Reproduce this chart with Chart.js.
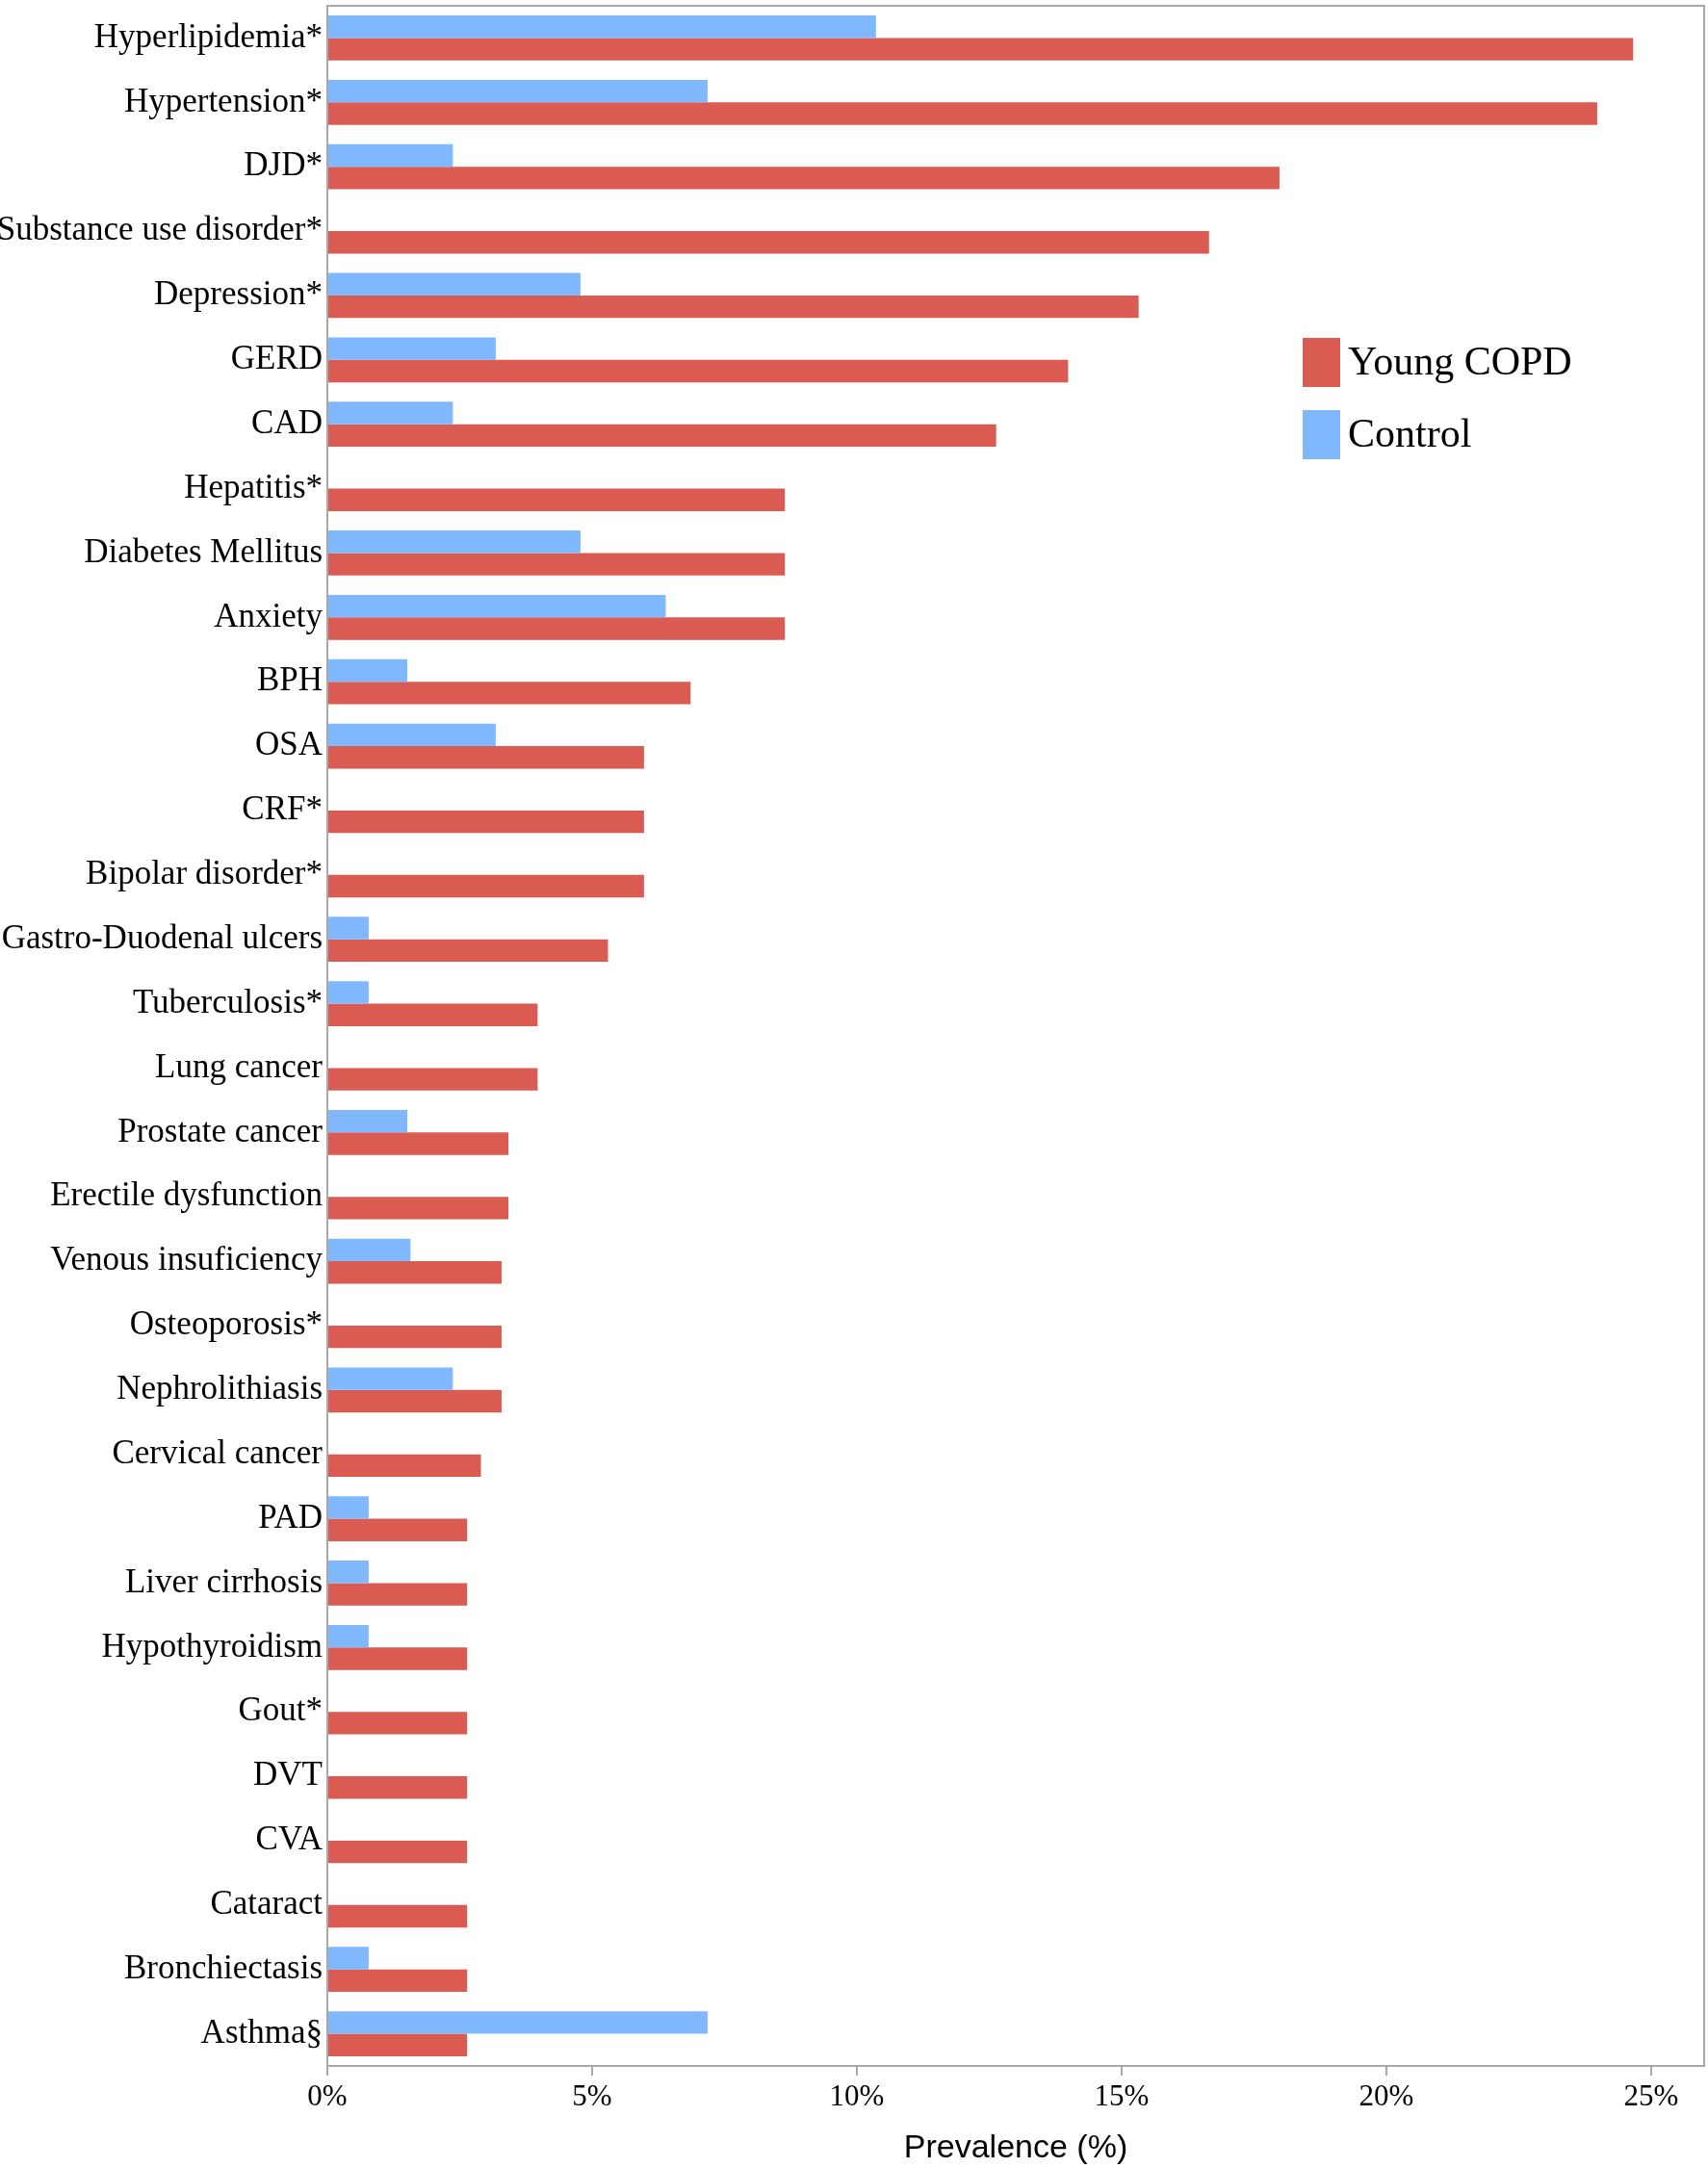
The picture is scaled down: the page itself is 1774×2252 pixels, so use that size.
<!DOCTYPE html>
<html>
<head>
<meta charset="utf-8">
<title>Comorbidities</title>
<script src="https://cdn.jsdelivr.net/npm/chart.js@4.4.1/dist/chart.umd.min.js"></script>
<style>
  html, body { margin: 0; padding: 0; background: #fff; }
  #wrap { width: 1774px; height: 2252px; position: relative; }
</style>
</head>
<body>
<div id="wrap"><canvas id="myChart"></canvas></div>
<script>
var categories = [
  "Hyperlipidemia*", "Hypertension*", "DJD*", "Substance use disorder*",
  "Depression*", "GERD", "CAD", "Hepatitis*", "Diabetes Mellitus", "Anxiety",
  "BPH", "OSA", "CRF*", "Bipolar disorder*", "Gastro-Duodenal ulcers",
  "Tuberculosis*", "Lung cancer", "Prostate cancer", "Erectile dysfunction",
  "Venous insuficiency", "Osteoporosis*", "Nephrolithiasis", "Cervical cancer",
  "PAD", "Liver cirrhosis", "Hypothyroidism", "Gout*", "DVT", "CVA",
  "Cataract", "Bronchiectasis", "Asthma§"
];

var youngCopd = [
  24.66, 23.98, 17.98, 16.65, 15.32, 13.99, 12.63, 8.64, 8.64, 8.64,
  6.86, 5.98, 5.98, 5.98, 5.30, 3.97, 3.97, 3.42, 3.42, 3.29,
  3.29, 3.29, 2.90, 2.64, 2.64, 2.64, 2.64, 2.64, 2.64, 2.64,
  2.64, 2.64
];

var control = [
  10.36, 7.18, 2.37, 0, 4.78, 3.18, 2.37, 0, 4.78, 6.39,
  1.51, 3.18, 0, 0, 0.78, 0.78, 0, 1.51, 0, 1.57,
  0, 2.37, 0, 0.78, 0.78, 0.78, 0, 0, 0, 0,
  0.78, 7.18
];

var xTicks = [0, 5, 10, 15, 20, 25];

var redColor = "#d95b51";
var blueColor = "#7fb8ff";
var frameColor = "#a8a8a8";

// box round the plot + the legend inside it
var framePlugin = {
  id: "frame",
  afterDraw: function (chart) {
    var ctx = chart.ctx;
    var a = chart.chartArea;
    ctx.save();
    ctx.strokeStyle = frameColor;
    ctx.lineWidth = 2;
    ctx.strokeRect(a.left, a.top, a.right - a.left, a.bottom - a.top);

    var items = [
      { text: "Young COPD", color: redColor, y: 351 },
      { text: "Control", color: blueColor, y: 426 }
    ];
    ctx.font = "42px 'Liberation Serif', 'Times New Roman', serif";
    ctx.textBaseline = "middle";
    ctx.textAlign = "left";
    items.forEach(function (it) {
      ctx.fillStyle = it.color;
      ctx.fillRect(1353, it.y, 39, 51);
      ctx.fillStyle = "#000";
      ctx.fillText(it.text, 1400, it.y + 27);
    });
    ctx.restore();
  }
};

var ctx = document.getElementById("myChart").getContext("2d");
var myChart = new Chart(ctx, {
  type: "bar",
  data: {
    labels: categories,
    datasets: [
      {
        label: "Control",
        data: control,
        backgroundColor: blueColor,
        categoryPercentage: 0.7,
        barPercentage: 1.0
      },
      {
        label: "Young COPD",
        data: youngCopd,
        backgroundColor: redColor,
        categoryPercentage: 0.7,
        barPercentage: 1.0
      }
    ]
  },
  options: {
    indexAxis: "y",
    responsive: true,
    maintainAspectRatio: false,
    animation: false,
    layout: {
      padding: { top: 6, right: 4, left: 0, bottom: 0 }
    },
    plugins: {
      legend: { display: false },
      tooltip: { enabled: false }
    },
    scales: {
      y: {
        grid: { display: false, drawTicks: false },
        border: { display: true, color: frameColor, width: 2 },
        ticks: {
          color: "#000",
          padding: 5,
          autoSkip: false,
          font: { family: "'Liberation Serif', 'Times New Roman', serif", size: 35 }
        },
        afterFit: function (scale) {
          scale.width = 340;
          scale.paddingTop = 0;
          scale.paddingBottom = 0;
        }
      },
      x: {
        min: 0,
        max: 26,
        grid: {
          drawOnChartArea: false,
          drawTicks: true,
          tickLength: 10,
          color: frameColor,
          lineWidth: 2
        },
        border: { display: true, color: frameColor, width: 2 },
        ticks: {
          stepSize: 5,
          includeBounds: false,
          color: "#000",
          padding: 4,
          font: { family: "'Liberation Serif', 'Times New Roman', serif", size: 31 },
          callback: function (v) {
            return xTicks.indexOf(v) >= 0 ? v + "%" : "";
          }
        },
        title: {
          display: true,
          text: "Prevalence (%)",
          color: "#000",
          padding: { top: 4, bottom: 0 },
          font: { family: "'Liberation Sans', Arial, sans-serif", size: 34 }
        },
        afterFit: function (scale) {
          scale.height = 106;
        }
      }
    }
  },
  plugins: [framePlugin]
});
</script>
</body>
</html>
